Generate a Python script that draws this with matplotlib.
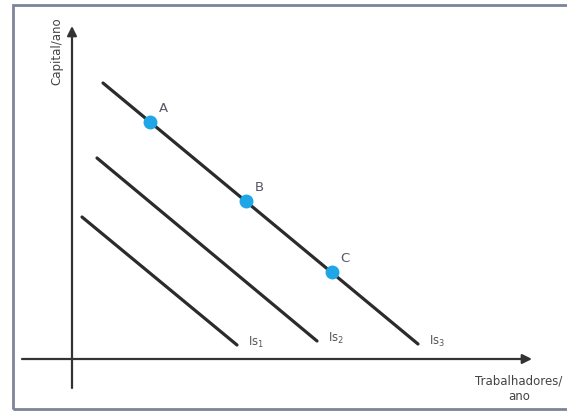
import matplotlib
matplotlib.use("Agg")
import matplotlib.pyplot as plt
from matplotlib.patches import Rectangle

# isocost lines (start x, start y, end x, end y)
iso_names = ["Is$_1$", "Is$_2$", "Is$_3$"]
iso_x = [[1.0, 16.5], [2.5, 24.5], [3.1, 34.6]]
iso_y = [[14.2, 1.4], [20.1, 1.8], [27.6, 1.5]]

# points on the highest line
pt_names = ["A", "B", "C"]
pt_x = [7.8, 17.4, 26.0]
pt_y = [23.7, 15.8, 8.7]

plt.rcParams['font.family'] = ['DejaVu Sans Condensed', 'DejaVu Sans']
plt.rcParams['mathtext.fontset'] = 'custom'
plt.rcParams['mathtext.rm'] = 'DejaVu Sans Condensed'

fig = plt.figure(figsize=(5.67, 4.14), dpi=100)
ax = fig.add_axes([0, 0, 1, 1])
ax.set_xlim(-7.2, 49.5)
ax.set_ylim(-5.4, 36.0)
ax.axis('off')

# frame
ax.add_patch(Rectangle((-5.9, -5.0), 57, 40.4, fill=False, edgecolor='#7d8499', lw=2))

# axes with arrows
ax.annotate('', xy=(46.0, 0), xytext=(-5.0, 0),
            arrowprops=dict(arrowstyle='-|>', color='#333333', lw=1.6, mutation_scale=14, shrinkA=0, shrinkB=0))
ax.annotate('', xy=(0, 33.3), xytext=(0, -2.9),
            arrowprops=dict(arrowstyle='-|>', color='#333333', lw=1.6, mutation_scale=14, shrinkA=0, shrinkB=0))

ax.text(-1.5, 30.9, 'Capital/ano', rotation=90, ha='center', va='center', fontsize=8.5, color='#444444')
ax.text(44.7, -2.9, 'Trabalhadores/\nano', ha='center', va='center', fontsize=8.5, color='#444444',
        linespacing=1.25)

for name, xs, ys in zip(iso_names, iso_x, iso_y):
    ax.plot(xs, ys, color='#2b2b2b', lw=2.3, solid_capstyle='round')
    ax.text(xs[1] + 1.9, ys[1] + 0.4, name, ha='center', va='center', fontsize=8.5, color='#555555')

ax.plot(pt_x, pt_y, 'o', color='#1ea6e6', ms=9, zorder=3)
for name, x, y in zip(pt_names, pt_x, pt_y):
    ax.text(x + 1.3, y + 1.4, name, ha='center', va='center', fontsize=9.5, color='#555566')

fig.savefig('out.png', dpi=100)
